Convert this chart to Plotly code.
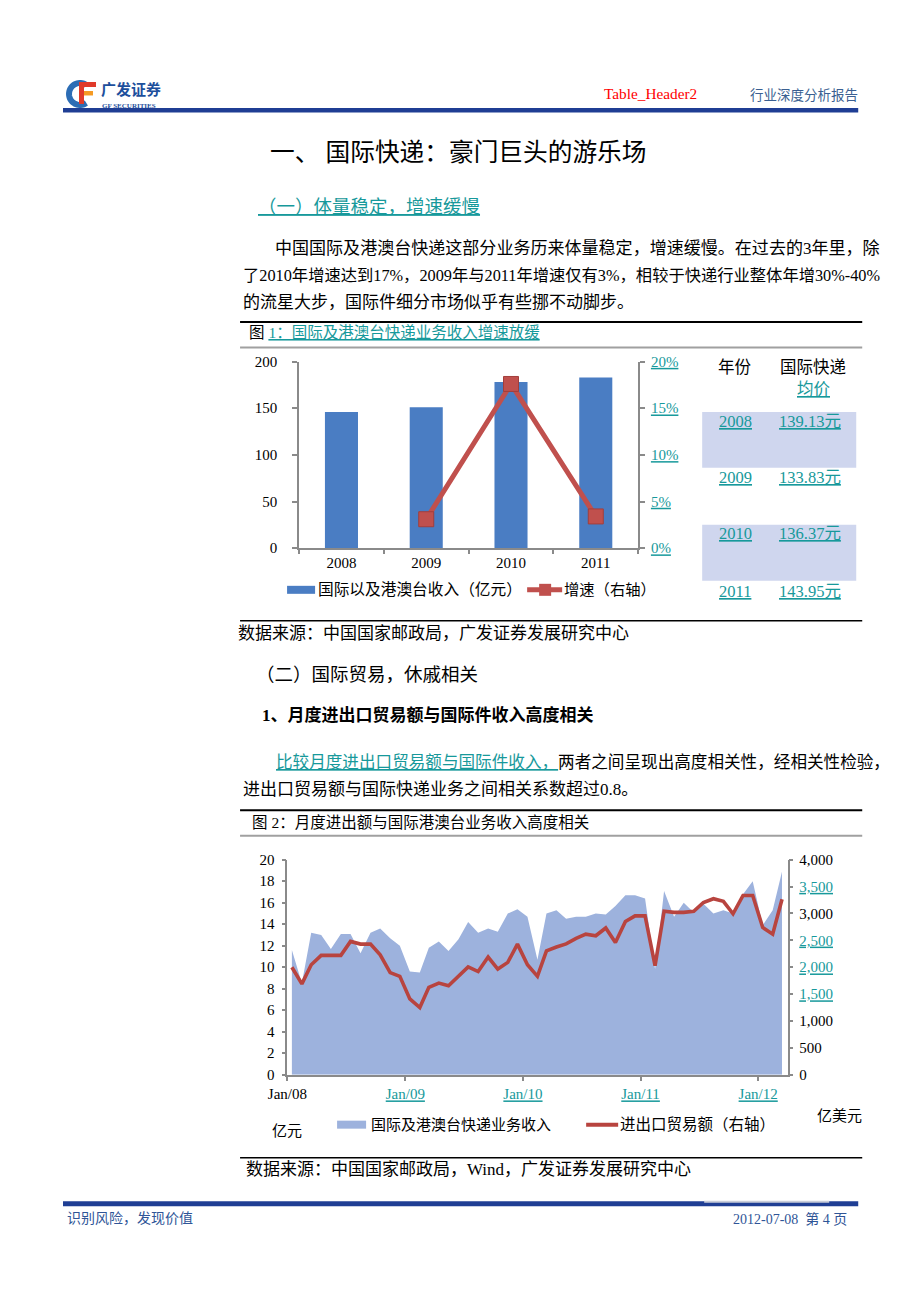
import plotly.graph_objects as go
import pandas as pd
import math

W, H = 920, 1301
# the rendered page is photographed with a small offset/scale; positions below are
# given in target picture pixels and mapped back to page pixels here
SX, OX = 0.978, 20.0
SY, OY = 0.988, 8.0


def px(x):
    return ((x - OX) / SX) / W


def py(y):
    return 1 - ((y - OY) / SY) / H


TEAL = "#17999B"
FONT = "Liberation Serif, Noto Sans CJK SC"
BAR_BLUE = "#4A7DC3"
RED1 = "#C0504D"
AREA_BLUE = "#9DB2DD"
RED2 = "#B8443F"
AXIS_GREY = "#8A8A8A"

# ---------------- Chart 1 data ----------------
years = ["2008", "2009", "2010", "2011"]
revenue = [146, 151, 178, 183]                 # 国际以及港澳台收入（亿元）
growth_years = ["2009", "2010", "2011"]
growth = [3.1, 17.6, 3.4]                      # 增速（%，右轴）
rev_ticks = [0, 50, 100, 150, 200]
pct_ticks = [0, 5, 10, 15, 20]

table_years = ["2008", "2009", "2010", "2011"]
avg_price = ["139.13元", "133.83元", "136.37元", "143.95元"]

# ---------------- Chart 2 data (Jan/08 - Mar/12, monthly) ----------------
express_rev = [11.6, 8.5, 13.2, 13.0, 11.7, 13.1, 13.1, 11.3, 13.2, 13.6, 12.7, 12.0,
               9.6, 9.5, 11.8, 12.4, 11.5, 12.6, 14.2, 13.2, 13.6, 13.3, 15.0, 15.4,
               14.7, 10.7, 15.0, 15.3, 14.5, 14.7, 14.7, 15.0, 14.9, 15.7, 16.7, 16.7,
               16.4, 9.8, 17.1, 14.7, 16.0, 15.1, 15.9, 15.0, 15.3, 15.0, 16.8, 18.0,
               13.9, 15.3, 18.9]
trade = [2000, 1690, 2045, 2220, 2220, 2220, 2480, 2430, 2430, 2230, 1900, 1830,
         1410, 1250, 1625, 1705, 1655, 1830, 2005, 1920, 2190, 1965, 2090, 2430,
         2045, 1830, 2305, 2375, 2435, 2535, 2615, 2585, 2730, 2460, 2850, 2955,
         2955, 2030, 3040, 3020, 3020, 3040, 3205, 3275, 3225, 2995, 3335, 3335,
         2740, 2615, 3265]
year_ticks = ["2008-01-01", "2009-01-01", "2010-01-01", "2011-01-01", "2012-01-01"]
year_labels = ["Jan/08", "Jan/09", "Jan/10", "Jan/11", "Jan/12"]
left2_ticks = [0, 2, 4, 6, 8, 10, 12, 14, 16, 18, 20]
right2_ticks = [0, 500, 1000, 1500, 2000, 2500, 3000, 3500, 4000]
right2_link = [1500, 2000, 2500, 3500]

months = pd.date_range("2008-01-01", periods=len(express_rev), freq="MS") + pd.Timedelta(days=14)


def teal_u(t):
    return f"<span style='color:{TEAL}'><u>{t}</u></span>"


fig = go.Figure()

# Chart 1
fig.add_trace(go.Bar(x=years, y=revenue, xaxis="x", yaxis="y", width=0.39,
                     marker=dict(color=BAR_BLUE, line=dict(width=0)),
                     name="国际以及港澳台收入（亿元）", showlegend=False))
fig.add_trace(go.Scatter(x=growth_years, y=growth, xaxis="x", yaxis="y2",
                         mode="lines+markers",
                         line=dict(color=RED1, width=5),
                         marker=dict(symbol="square", size=15, color=RED1,
                                     line=dict(color="#A33E3B", width=1)),
                         name="增速（右轴）", showlegend=False))

# Chart 2
fig.add_trace(go.Scatter(x=months, y=express_rev, xaxis="x2", yaxis="y3",
                         mode="lines", fill="tozeroy", fillcolor=AREA_BLUE,
                         line=dict(width=0, color=AREA_BLUE),
                         name="国际及港澳台快递业务收入", showlegend=False))
fig.add_trace(go.Scatter(x=months, y=trade, xaxis="x2", yaxis="y4",
                         mode="lines", line=dict(color=RED2, width=3.6),
                         name="进出口贸易额（右轴）", showlegend=False))

axis_common = dict(showline=True, linecolor=AXIS_GREY, linewidth=1.5,
                   ticks="outside", tickcolor=AXIS_GREY, tickwidth=1.5,
                   showgrid=False, zeroline=False, fixedrange=True)

fig.update_layout(
    width=W, height=H,
    margin=dict(l=0, r=0, t=0, b=0),
    paper_bgcolor="white", plot_bgcolor="white",
    showlegend=False,
    font=dict(family=FONT, color="black"),
    xaxis=dict(domain=[px(299), px(638)], anchor="y", type="category",
               range=[-0.5, 3.5], tickson="boundaries", ticklen=4,
               tickfont=dict(size=15, family=FONT, color="black"), **axis_common),
    yaxis=dict(domain=[py(548.3), py(361.7)], anchor="x", range=[0, 200],
               tickvals=rev_ticks, ticklen=5, ticklabelstandoff=12,
               tickfont=dict(size=15, family=FONT, color="black"), **axis_common),
    yaxis2=dict(overlaying="y", side="right", anchor="x", range=[0, 20],
                tickvals=pct_ticks, ticktext=[f"<u>{v}%</u>" for v in pct_ticks],
                ticklen=5, ticklabelstandoff=3,
                tickfont=dict(size=15, family=FONT, color=TEAL), **axis_common),
    xaxis2=dict(domain=[px(287.3), px(787.3)], anchor="y3", type="date",
                range=["2008-01-01", "2012-04-01"], tickvals=year_ticks,
                ticktext=[year_labels[0]] + [teal_u(t) for t in year_labels[1:]],
                ticklen=5,
                tickfont=dict(size=15, family=FONT, color="black"), **axis_common),
    yaxis3=dict(domain=[py(1075), py(860)], anchor="x2", range=[0, 20],
                tickvals=left2_ticks, ticklen=4, ticklabelstandoff=4,
                tickfont=dict(size=15, family=FONT, color="black"), **axis_common),
    yaxis4=dict(overlaying="y3", side="right", anchor="x2", range=[0, 4000],
                tickvals=right2_ticks,
                ticktext=[teal_u(f"{v:,}") if v in right2_link else f"{v:,}" for v in right2_ticks],
                ticklen=4, ticklabelstandoff=3,
                tickfont=dict(size=15, family=FONT, color="black"), **axis_common),
)

shapes = []


def rect(x0, y0, x1, y1, color, layer="below"):
    shapes.append(dict(type="rect", xref="paper", yref="paper",
                       x0=px(x0), x1=px(x1), y0=py(y1), y1=py(y0),
                       fillcolor=color, line=dict(width=0), layer=layer))


def hline(x0, x1, y, color, width):
    shapes.append(dict(type="line", xref="paper", yref="paper",
                       x0=px(x0), x1=px(x1), y0=py(y), y1=py(y),
                       line=dict(color=color, width=width)))


# header / footer bars
rect(63, 108, 858, 112.5, "#1F3E94", "above")
rect(63, 1201.5, 858, 1206.5, "#1F3E94", "above")
rect(704, 1201, 829, 1203.2, "#C9CDD9", "above")

# logo
arc_pts = []
for k in range(0, 41):
    a = math.radians(55 + k * 250 / 40)
    arc_pts.append((80 + 11 * math.cos(a), 94 - 11 * math.sin(a)))
path = "M " + " L ".join(f"{px(x):.5f},{py(y):.5f}" for x, y in arc_pts)
shapes.append(dict(type="path", xref="paper", yref="paper", path=path,
                   line=dict(color="#2C6DB5", width=6)))
rect(79, 82, 96, 87, "#E03A2A", "above")
rect(79, 91, 93, 95.5, "#F59A23", "above")
rect(79, 82, 84, 104, "#E03A2A", "above")

# rules around figures
hline(240, 862, 322, "black", 2)
hline(240, 862, 347.5, "#A0A0A0", 2)
hline(240, 862, 621, "black", 1.5)
hline(240, 862, 810.5, "black", 2)
hline(240, 862, 836, "#A0A0A0", 2)
hline(240, 862, 1158, "black", 1.5)

# table shading
rect(702, 412, 856, 468, "#CFD6EE")
rect(702, 525, 856, 581, "#CFD6EE")

# manual legends
rect(287, 586, 315, 594, BAR_BLUE, "above")
hline(527, 562, 590, RED1, 5)
rect(539, 584, 551, 596, RED1, "above")
rect(337, 1121, 366, 1129, AREA_BLUE, "above")
hline(586, 618, 1125, RED2, 4)

annotations = []


def ann(text, x, y, size, color="black", xanchor="left"):
    annotations.append(dict(text=text, x=px(x), y=py(y), xref="paper", yref="paper",
                            xanchor=xanchor, yanchor="middle", showarrow=False,
                            font=dict(size=size, color=color, family=FONT)))


# header
ann("<b>广发证券</b>", 99, 90, 15, "#1D4F9C")
ann("<b>GF SECURITIES</b>", 100, 106.5, 7, "#1D4F9C")
ann("Table_Header2", 602, 94, 15.3, "#FF0000")
ann("行业深度分析报告", 748, 96, 13.5, "#3A5F91")

# body text
ann("一、 国际快递：豪门巨头的游乐场", 268, 153, 24.7)
ann("<u>（一）体量稳定，增速缓慢</u>", 256, 207, 18.5, TEAL)
ann("中国国际及港澳台快递这部分业务历来体量稳定，增速缓慢。在过去的3年里，除", 273, 248, 17.05)
ann("了2010年增速达到17%，2009年与2011年增速仅有3%，相较于快递行业整体年增30%-40%", 241, 276, 16.3)
ann("的流星大步，国际件细分市场似乎有些挪不动脚步。", 241, 303, 17)

ann("图 " + "<span style='color:%s'><u>1：国际及港澳台快递业务收入增速放缓</u></span>" % TEAL,
    247, 333, 15.5)
ann("数据来源：中国国家邮政局，广发证券发展研究中心", 236, 634, 17)
ann("（二）国际贸易，休戚相关", 254, 675, 18.5)
ann("<b>1、月度进出口贸易额与国际件收入高度相关</b>", 260, 715, 17)
ann("<span style='color:%s'><u>比较月度进出口贸易额与国际件收入，</u></span>"
    "两者之间呈现出高度相关性，经相关性检验，" % TEAL, 274, 763, 16.6)
ann("进出口贸易额与国际快递业务之间相关系数超过0.8。", 241, 790, 17)
ann("图 2：月度进出额与国际港澳台业务收入高度相关", 250, 823, 15.5)
ann("数据来源：中国国家邮政局，Wind，广发证券发展研究中心", 244, 1170, 17)

# chart 1 legend
ann("国际以及港澳台收入（亿元）", 316, 590, 15.7)
ann("增速（右轴）", 562, 590, 15.3)

# chart 1 side table
ann("年份", 735, 368, 16.5, "black", "center")
ann("国际快递", 813, 368, 16.5, "black", "center")
ann("<u>均价</u>", 813, 390, 16.5, TEAL, "center")
row_y = [422, 478, 534, 592]
for yr, price, yy in zip(table_years, avg_price, row_y):
    ann(f"<u>{yr}</u>", 735, yy, 16.5, TEAL, "center")
    ann(f"<u>{price}</u>", 810, yy, 16.5, TEAL, "center")

# chart 2 legend and units
ann("国际及港澳台快递业务收入", 369, 1125, 15)
ann("进出口贸易额（右轴）", 618, 1125, 15.5)
ann("亿元", 270, 1131, 15)
ann("亿美元", 815, 1116, 15)

# footer
ann("识别风险，发现价值", 65, 1219, 14, "#2F5597")
ann("2012-07-08  第 4 页", 849, 1219, 14, "#2F5597", "right")

fig.update_layout(shapes=shapes, annotations=annotations)

fig.write_html("out.html")
